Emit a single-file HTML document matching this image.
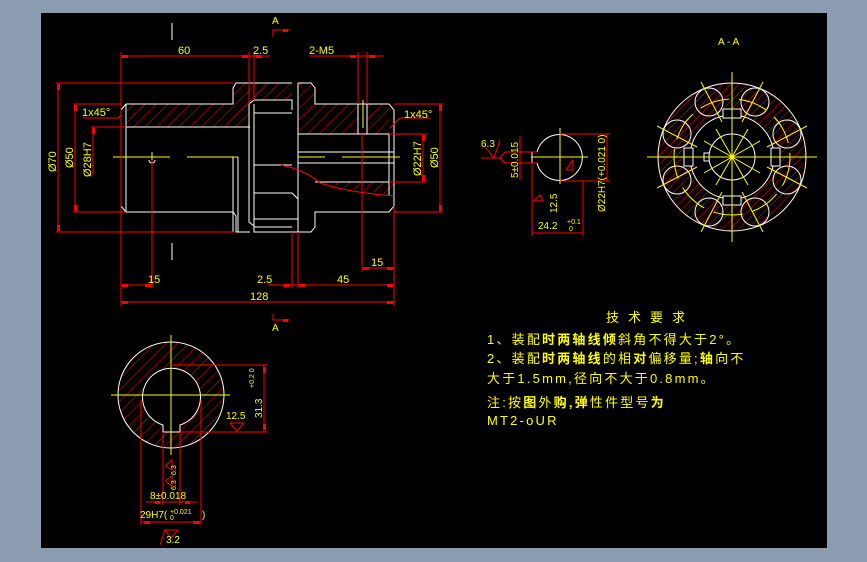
<!DOCTYPE html>
<html><head><meta charset="utf-8"><style>
html,body{margin:0;padding:0;background:#8b9bb0;width:867px;height:562px;overflow:hidden}
svg{position:absolute;left:0;top:0}
text{font-family:"Liberation Sans","Noto Sans CJK SC",sans-serif;fill:#ffff00}
</style></head><body>
<svg width="867" height="562" viewBox="0 0 867 562" xmlns="http://www.w3.org/2000/svg">
<defs>
<pattern id="h" patternUnits="userSpaceOnUse" width="8" height="8" patternTransform="rotate(45)">
<line x1="0" y1="0" x2="0" y2="8" stroke="#ff0000" stroke-width="1"/>
</pattern>
<pattern id="h2" patternUnits="userSpaceOnUse" width="6" height="6" patternTransform="rotate(45)">
<line x1="0" y1="0" x2="0" y2="6" stroke="#ff0000" stroke-width="1"/>
</pattern>
</defs>
<rect x="41" y="13" width="786" height="535" fill="#000"/>

<!-- ===== MAIN VIEW ===== -->
<g fill="url(#h)" stroke="none">
<rect x="126" y="104" width="124" height="23"/>
<polygon points="233,83 292,83 292,100 260,100 250,104 233,104"/>
<polygon points="299,83 311,83 315,92 315,104 358,104 358,134 299,134"/>
<rect x="367" y="104" width="22" height="30"/>
<polygon points="315,182 394,182 394,196 360,190 330,186"/>
</g>
<g fill="none" stroke="#fff" stroke-width="1">
<polyline points="126,104 233,104 233,88 236,83 292,83"/>
<polyline points="126,212 233,212 236,216 236,232 250,232"/>
<polyline points="126,104 121,110 121,206 126,212"/>
<line x1="126" y1="104" x2="126" y2="212"/>
<line x1="126" y1="127" x2="250" y2="127"/>
<line x1="233" y1="157" x2="233" y2="232"/>
<line x1="238" y1="157" x2="238" y2="232"/>
<line x1="233" y1="157" x2="238" y2="157"/>
<polyline points="292,110 292,100 254,100 249,104 249,222 254,226 254,232 298,232"/>
<line x1="254" y1="104" x2="254" y2="232"/>
<line x1="254" y1="113" x2="292" y2="113"/>
<line x1="254" y1="165" x2="292" y2="165"/>
<polyline points="254,193 292,193 298,199 298,232"/>
<line x1="254" y1="219" x2="298" y2="219"/>
<line x1="254" y1="227" x2="292" y2="227"/>
<line x1="292" y1="100" x2="292" y2="110"/>
<polyline points="298,83 311,83 315,88 315,104 389,104 394,110 394,206 389,212 315,212 315,227 311,232 298,232"/>
<line x1="298" y1="83" x2="298" y2="232"/>
<line x1="298" y1="134" x2="394" y2="134"/>
<line x1="298" y1="152" x2="394" y2="152"/>
<line x1="298" y1="163" x2="394" y2="163"/>
<line x1="315" y1="182" x2="394" y2="182"/>
<line x1="389" y1="134" x2="389" y2="196"/>
<line x1="358" y1="104" x2="358" y2="134"/>
<line x1="367" y1="104" x2="367" y2="134"/>
<line x1="172" y1="23" x2="172" y2="40"/>
<line x1="172" y1="243" x2="172" y2="260"/>
</g>
<path d="M281,165 Q305,170 320,183 Q345,192 394,196" fill="none" stroke="#f00"/>
<g stroke="#ff0" stroke-width="1">
<line x1="113" y1="157" x2="170" y2="157"/>
<line x1="187" y1="157" x2="238" y2="157"/>
<line x1="298" y1="157" x2="325" y2="157"/>
<line x1="342" y1="157" x2="400" y2="157"/>
<line x1="363" y1="100" x2="363" y2="128"/>
<line x1="152" y1="152" x2="152" y2="162"/>
</g>
<path d="M149,160 A3,3 0 0 0 155,160" stroke="#fff" fill="none"/>

<g stroke="#f00" stroke-width="1" fill="none">
<line x1="121" y1="56" x2="270" y2="56"/>
<line x1="121" y1="52" x2="121" y2="306"/>
<line x1="249" y1="52" x2="249" y2="104"/>
<line x1="254" y1="52" x2="254" y2="100"/>
<line x1="309" y1="56" x2="383" y2="56"/>
<line x1="358" y1="52" x2="358" y2="104"/>
<line x1="367" y1="52" x2="367" y2="104"/>
<line x1="56" y1="83" x2="233" y2="83"/>
<line x1="56" y1="232" x2="236" y2="232"/>
<line x1="58" y1="83" x2="58" y2="232"/>
<line x1="73" y1="104" x2="121" y2="104"/>
<line x1="73" y1="212" x2="126" y2="212"/>
<line x1="75" y1="104" x2="75" y2="212"/>
<line x1="91" y1="127" x2="126" y2="127"/>
<line x1="93" y1="127" x2="93" y2="175"/>
<line x1="389" y1="134" x2="427" y2="134"/>
<line x1="389" y1="182" x2="427" y2="182"/>
<line x1="423" y1="134" x2="423" y2="182"/>
<line x1="394" y1="104" x2="443" y2="104"/>
<line x1="394" y1="212" x2="443" y2="212"/>
<line x1="440" y1="104" x2="440" y2="212"/>
<line x1="121" y1="302" x2="394" y2="302"/>
<line x1="394" y1="206" x2="394" y2="306"/>
<line x1="121" y1="285" x2="152" y2="285"/>
<line x1="152" y1="160" x2="152" y2="288"/>
<line x1="292" y1="232" x2="292" y2="288"/>
<line x1="298" y1="232" x2="298" y2="288"/>
<line x1="268" y1="285" x2="394" y2="285"/>
<line x1="362" y1="268" x2="394" y2="268"/>
<line x1="362" y1="134" x2="362" y2="272"/>
<polyline points="83,118 118,118 121,115"/>
<polyline points="400,118 430,118"/>
<line x1="400" y1="118" x2="390" y2="128"/>
<polyline points="273,37 273,30 290,30"/>
<polyline points="273,314 273,320 290,320"/>
</g>
<g fill="#f00">
<rect x="122" y="55" width="6" height="3"/><rect x="242" y="55" width="6" height="3"/><rect x="256" y="55" width="6" height="3"/>
<rect x="350" y="55" width="6" height="3"/><rect x="369" y="55" width="6" height="3"/>
<rect x="57" y="84" width="3" height="6"/><rect x="57" y="225" width="3" height="6"/>
<rect x="74" y="105" width="3" height="6"/><rect x="74" y="205" width="3" height="6"/>
<rect x="92" y="128" width="3" height="6"/>
<rect x="422" y="135" width="3" height="6"/><rect x="422" y="175" width="3" height="6"/>
<rect x="439" y="105" width="3" height="6"/><rect x="439" y="205" width="3" height="6"/>
<rect x="122" y="301" width="6" height="3"/><rect x="387" y="301" width="6" height="3"/>
<rect x="122" y="284" width="6" height="3"/><rect x="145" y="284" width="6" height="3"/>
<rect x="284" y="284" width="6" height="3"/><rect x="299" y="284" width="6" height="3"/><rect x="387" y="284" width="6" height="3"/>
<rect x="363" y="267" width="6" height="3"/><rect x="387" y="267" width="6" height="3"/>
<rect x="283" y="29" width="5" height="3"/><rect x="283" y="319" width="5" height="3"/>
</g>
<g font-size="11">
<text x="178" y="54">60</text>
<text x="253" y="54">2.5</text>
<text x="309" y="54">2-M5</text>
<text x="82" y="116">1x45°</text>
<text x="404" y="118">1x45°</text>
<text x="148" y="283">15</text>
<text x="257" y="283">2.5</text>
<text x="337" y="283">45</text>
<text x="371" y="266">15</text>
<text x="250" y="300">128</text>
<text x="272" y="24" font-size="10">A</text>
<text x="272" y="331" font-size="10">A</text>
<text transform="translate(56,172) rotate(-90)">Ø70</text>
<text transform="translate(73,168) rotate(-90)">Ø50</text>
<text transform="translate(91,177) rotate(-90)">Ø28H7</text>
<text transform="translate(421,176) rotate(-90)">Ø22H7</text>
<text transform="translate(438,168) rotate(-90)">Ø50</text>
</g>

<!-- ===== SMALL RIGHT VIEW ===== -->
<g fill="none" stroke="#fff">
<path d="M537,152 A23,23 0 1 1 537,163"/>
<polyline points="537,152 532,152 532,163 537,163"/>
</g>
<g stroke="#ff0">
<line x1="560" y1="128" x2="560" y2="184"/>
<line x1="531" y1="157" x2="588" y2="157"/>
</g>
<g stroke="#f00" fill="none">
<line x1="560" y1="134" x2="610" y2="134"/>
<line x1="560" y1="181" x2="610" y2="181"/>
<line x1="607" y1="134" x2="607" y2="181"/>
<line x1="518" y1="152" x2="537" y2="152"/>
<line x1="518" y1="163" x2="537" y2="163"/>
<line x1="520" y1="136" x2="520" y2="180"/>
<line x1="532" y1="163" x2="532" y2="236"/>
<line x1="583" y1="181" x2="583" y2="236"/>
<line x1="532" y1="233" x2="583" y2="233"/>
<polyline points="481,158 500,158 505,152 516,152"/>
<polyline points="500,158 505,163 516,163"/>
<polyline points="486,148 494,158 500,140"/>
<polyline points="533,201 540,195 543,201 533,201"/>
<polyline points="566,170 573,160 573,170 566,170"/>
</g>
<g font-size="10">
<text x="481" y="147">6.3</text>
<text transform="translate(518,178) rotate(-90)">5±0.015</text>
<text transform="translate(605,212) rotate(-90)">Ø22H7(+0.021 0)</text>
<text transform="translate(557,213) rotate(-90)">12.5</text>
<text x="538" y="229">24.2</text><text x="567" y="224" font-size="7">+0.1</text><text x="569" y="231" font-size="7">0</text>
</g>

<!-- ===== A-A VIEW ===== -->
<circle cx="732" cy="157" r="74" fill="url(#h2)"/>
<circle cx="732" cy="157" r="42" fill="#000"/>
<g fill="none" stroke="#fff">
<circle cx="732" cy="157" r="74"/>
<circle cx="732" cy="157" r="42"/>
<circle cx="732" cy="157" r="23"/>
<g transform="translate(732,157)">
<circle cx="23" cy="-55" r="14"/><circle cx="-23" cy="-55" r="14"/>
<circle cx="23" cy="55" r="14"/><circle cx="-23" cy="55" r="14"/>
<circle cx="55" cy="23" r="14"/><circle cx="55" cy="-23" r="14"/>
<circle cx="-55" cy="23" r="14"/><circle cx="-55" cy="-23" r="14"/>
<rect x="-9" y="-48" width="18" height="9" fill="#000"/>
<rect x="-9" y="39" width="18" height="9" fill="#000"/>
<rect x="39" y="-9" width="9" height="18" fill="#000"/>
<rect x="-48" y="-9" width="9" height="18" fill="#000"/>
<polyline points="-23,-4 -28,-4 -28,4 -23,4"/>
</g>
</g>
<g stroke="#ff0" fill="none" transform="translate(732,157)">
<circle r="58" stroke-dasharray="30 10"/>
<line x1="0" y1="-85" x2="0" y2="85"/>
<line x1="-85" y1="0" x2="85" y2="0"/>
<line x1="-28" y1="-16" x2="28" y2="16"/><line x1="-28" y1="16" x2="28" y2="-16"/>
<line x1="-16" y1="-28" x2="16" y2="28"/><line x1="-16" y1="28" x2="16" y2="-28"/>
<line x1="-31" y1="-75" x2="-10" y2="-35"/><line x1="31" y1="-75" x2="10" y2="-35"/>
<line x1="-31" y1="75" x2="-10" y2="35"/><line x1="31" y1="75" x2="10" y2="35"/>
<line x1="-75" y1="-31" x2="-35" y2="-10"/><line x1="75" y1="-31" x2="35" y2="-10"/>
<line x1="-75" y1="31" x2="-35" y2="10"/><line x1="75" y1="31" x2="35" y2="10"/>
</g>
<text x="718" y="45" font-size="10">A - A</text>

<!-- ===== BOTTOM LEFT VIEW ===== -->
<circle cx="171" cy="395" r="53" fill="url(#h)"/>
<path d="M163,432 L163,425 A29,29 0 1 1 180,425 L180,432 Z" fill="#000" stroke="#fff"/>
<circle cx="171" cy="395" r="53" fill="none" stroke="#fff"/>
<g stroke="#ff0">
<line x1="171" y1="335" x2="171" y2="455"/>
<line x1="111" y1="395" x2="230" y2="395"/>
</g>
<g stroke="#f00" fill="none">
<line x1="171" y1="365" x2="268" y2="365"/>
<line x1="180" y1="432" x2="268" y2="432"/>
<line x1="264" y1="365" x2="264" y2="432"/>
<line x1="163" y1="432" x2="163" y2="505"/>
<line x1="180" y1="432" x2="180" y2="505"/>
<line x1="141" y1="400" x2="141" y2="525"/>
<line x1="201" y1="400" x2="201" y2="525"/>
<line x1="146" y1="502" x2="197" y2="502"/>
<line x1="141" y1="522" x2="201" y2="522"/>
<polyline points="230,423 244,423 237,431 230,423"/>
<polyline points="165,530 178,530 171,538 165,530 160,545"/>
<polyline points="165,466 172,460 172,470 165,466"/>
<polyline points="165,481 172,476 172,486 165,481"/>
</g>
<g fill="#f00">
<rect x="263" y="367" width="3" height="6"/><rect x="263" y="424" width="3" height="6"/>
<rect x="155" y="501" width="5" height="3"/><rect x="185" y="501" width="5" height="3"/>
<rect x="144" y="521" width="6" height="3"/><rect x="193" y="521" width="6" height="3"/>
</g>
<g font-size="10">
<text transform="translate(262,418) rotate(-90)">31.3</text>
<text transform="translate(254,388) rotate(-90)" font-size="7">+0.2 0</text>
<text x="226" y="419">12.5</text>
<text x="150" y="499">8±0.018</text>
<text x="140" y="518">29H7(</text><text x="170" y="514" font-size="7">+0.021</text><text x="170" y="520" font-size="7">0</text><text x="202" y="518">)</text>
<text x="166" y="543">3.2</text>
<text transform="translate(176,475) rotate(-90)" font-size="7">6.3</text>
<text transform="translate(176,490) rotate(-90)" font-size="7">6.3</text>
</g>

<!-- ===== TECH REQUIREMENTS ===== -->
<g font-size="13" letter-spacing="2.2">
<text x="606" y="322" letter-spacing="9">技术要求</text>
<text x="487" y="344">1、装配<tspan font-weight="bold">时两轴线倾</tspan>斜角不得大于2°。</text>
<text x="487" y="363">2、装配<tspan font-weight="bold">时两轴线</tspan>的相<tspan font-weight="bold">对</tspan>偏移量;<tspan font-weight="bold">轴</tspan>向不</text>
<text x="487" y="383">大于1.5mm,径向不大于0.8mm。</text>
<text x="487" y="407">注:按<tspan font-weight="bold">图</tspan>外<tspan font-weight="bold">购,弹</tspan>性件型号<tspan font-weight="bold">为</tspan></text>
<text x="487" y="425">MT2-oUR</text>
</g>
</svg>
</body></html>
